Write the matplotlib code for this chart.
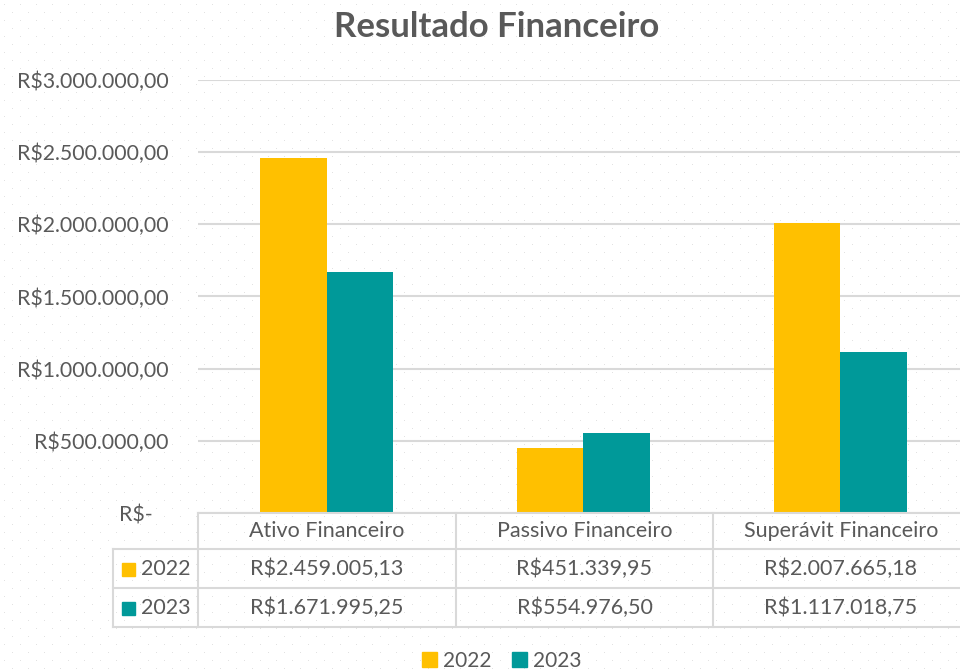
import numpy as np
import matplotlib.pyplot as plt
from matplotlib.patches import Rectangle
from matplotlib.lines import Line2D

categorias = ['Ativo Financeiro', 'Passivo Financeiro', 'Superávit Financeiro']
anos = ['2022', '2023']
valores_2022 = [2459005.13, 451339.95, 2007665.18]
valores_2023 = [1671995.25, 554976.50, 1117018.75]
rotulos_2022 = ['R$2.459.005,13', 'R$451.339,95', 'R$2.007.665,18']
rotulos_2023 = ['R$1.671.995,25', 'R$554.976,50', 'R$1.117.018,75']
ticks_y = [0, 500000, 1000000, 1500000, 2000000, 2500000, 3000000]
ticks_rotulos = ['R$-   ', 'R$500.000,00', 'R$1.000.000,00', 'R$1.500.000,00',
                 'R$2.000.000,00', 'R$2.500.000,00', 'R$3.000.000,00']

cor_2022 = '#FFC000'
cor_2023 = '#009999'
cor_texto = '#595959'
cor_grade = '#D9D9D9'

plt.rcParams['font.family'] = ['Lato', 'DejaVu Sans']

W, H = 960, 672
fig = plt.figure(figsize=(9.6, 6.72), dpi=100)

# fundo pontilhado (padrão do Excel)
bg = fig.add_axes([0, 0, 1, 1], zorder=-10)
yy, xx = np.mgrid[0:H, 0:W]
pad = (yy % 8 == 4) & (((xx + (yy // 8) % 2 * 8) % 16) == 4)
img = np.ones((H, W, 3))
img[pad] = np.array([226, 226, 226]) / 255
bg.imshow(img, aspect='auto', interpolation='nearest')
bg.axis('off')

# área do gráfico em pixels
x0, x1 = 198, 969
y_top, y_bot = 80, 513
ax = fig.add_axes([x0 / W, 1 - y_bot / H, (x1 - x0) / W, (y_bot - y_top) / H])
ax.patch.set_alpha(0)

x = np.arange(len(categorias))
larg = 0.26
ax.bar(x - larg / 2, valores_2022, larg, color=cor_2022, zorder=3)
ax.bar(x + larg / 2, valores_2023, larg, color=cor_2023, zorder=3)

ax.set_xlim(-0.5, 2.5)
ax.set_ylim(0, 3000000)
ax.set_yticks(ticks_y)
ax.set_yticklabels(ticks_rotulos, fontsize=15.3, color=cor_texto)
ax.tick_params(axis='y', length=0, pad=21)
ax.set_xticks([])
ax.yaxis.grid(True, color=cor_grade, linewidth=1.5, zorder=0)
for s in ax.spines.values():
    s.set_visible(False)

fig.text(497 / W, 1 - 27 / H, 'Resultado Financeiro', ha='center', va='center',
         fontsize=25, fontweight='bold', color=cor_texto)

# tabela de dados
def fy(py):
    return 1 - py / H

def fx(px):
    return px / W

linhas_y = [513, 549, 588, 627]
cols_x = [198, 456, 713, 969]
lw = 1.5
# horizontais
fig.add_artist(Line2D([fx(198), 1.02], [fy(513), fy(513)], color=cor_grade, lw=lw))
for py in linhas_y[1:]:
    fig.add_artist(Line2D([fx(113), 1.02], [fy(py), fy(py)], color=cor_grade, lw=lw))
# verticais
for px in cols_x[:3]:
    fig.add_artist(Line2D([fx(px), fx(px)], [fy(513), fy(627)], color=cor_grade, lw=lw))
fig.add_artist(Line2D([fx(113), fx(113)], [fy(549), fy(627)], color=cor_grade, lw=lw))

fs = 15.5
for i, cat in enumerate(categorias):
    cx = fx((cols_x[i] + cols_x[i + 1]) / 2)
    fig.text(cx, fy(531), cat, ha='center', va='center', fontsize=fs, color=cor_texto)
    fig.text(cx, fy(569), rotulos_2022[i], ha='center', va='center', fontsize=fs, color=cor_texto)
    fig.text(cx, fy(608), rotulos_2023[i], ha='center', va='center', fontsize=fs, color=cor_texto)

for ano, cor, py in zip(anos, [cor_2022, cor_2023], [569, 608]):
    fig.add_artist(Rectangle((fx(122), fy(py + 6.5)), 13 / W, 13 / H, color=cor,
                             transform=fig.transFigure))
    fig.text(fx(141), fy(py), ano, ha='left', va='center', fontsize=fs, color=cor_texto)

# legenda
handles = [Rectangle((0, 0), 1, 1, color=cor_2022), Rectangle((0, 0), 1, 1, color=cor_2023)]
leg = fig.legend(handles, anos, loc='center', bbox_to_anchor=(fx(502), fy(661)),
                 ncol=2, frameon=False, fontsize=15, handlelength=0.7, handleheight=0.7,
                 handletextpad=0.3, columnspacing=1.0)
for t in leg.get_texts():
    t.set_color(cor_texto)

fig.savefig('out.png', dpi=100)
